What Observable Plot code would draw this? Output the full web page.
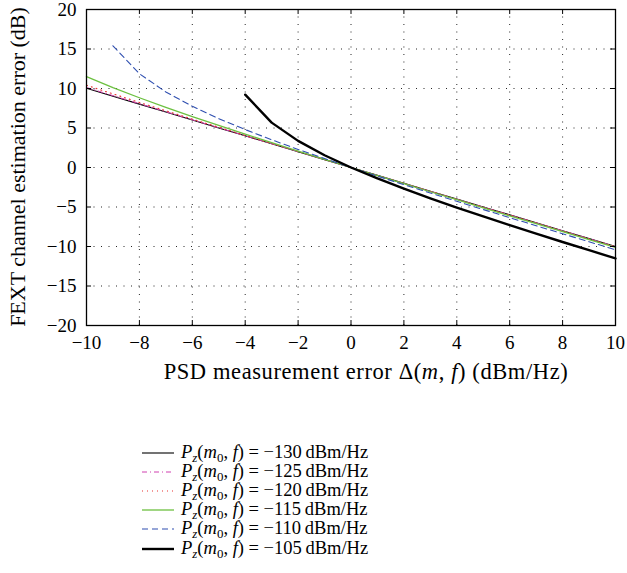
<!DOCTYPE html>
<html>
<head>
<meta charset="utf-8">
<script src="https://cdn.jsdelivr.net/npm/d3@7"></script>
<script src="https://cdn.jsdelivr.net/npm/@observablehq/plot@0.6"></script>
<style>
  html, body { margin: 0; padding: 0; background: #fff; }
  #wrap { position: relative; width: 627px; height: 573px; overflow: hidden; font-family: 'Liberation Serif', 'DejaVu Serif', serif; color: #000; }
  #chart { position: absolute; left: 0; top: 0; }
  .lab { position: absolute; white-space: nowrap; line-height: 1; }
  #legend { position: absolute; left: 0; top: 0; }
  .row { position: absolute; white-space: nowrap; font-size: 18.5px; line-height: 1; }
  .row svg { position: absolute; left: 0; top: 0; }
  .row span { position: absolute; top: 0; }
  sub { font-size: 70%; vertical-align: -0.3em; line-height: 0; }
</style>
</head>
<body>
<div id="wrap">
  <div id="chart"></div>
  <div class="lab" id="xlab" style="left:0;width:732px;text-align:center;top:361px;font-size:22.5px;letter-spacing:0.6px;">PSD measurement error &Delta;(<i>m</i>, <i>f</i>) (dBm/Hz)</div>
  <div class="lab" id="ylab" style="left:18px;top:167px;font-size:22px;transform:translate(-50%,-50%) rotate(-90deg);">FEXT channel estimation error (dB)</div>
  <div id="legend"></div>
</div>
<script>
// ---- data ----
const xTicks = [-10, -8, -6, -4, -2, 0, 2, 4, 6, 8, 10];
const yTicks = [-20, -15, -10, -5, 0, 5, 10, 15, 20];

const deltaFull = [-10, -9, -8, -7, -6, -5, -4, -3, -2, -1, 0, 1, 2, 3, 4, 5, 6, 7, 8, 9, 10];
const err130 = [10.04, 9.03, 8.02, 7.02, 6.01, 5.01, 4.01, 3.00, 2.00, 1.00, 0, -1.00, -2.00, -3.00, -4.00, -5.00, -6.00, -7.00, -8.00, -9.00, -10.00];
const err125 = [10.13, 9.10, 8.07, 7.06, 6.04, 5.03, 4.02, 3.01, 2.01, 1.00, 0, -1.00, -2.01, -3.01, -4.01, -5.01, -6.01, -7.01, -8.01, -9.01, -10.01];
const err120 = [10.41, 9.32, 8.24, 7.18, 6.13, 5.10, 4.07, 3.04, 2.03, 1.01, 0, -1.01, -2.02, -3.02, -4.03, -5.03, -6.03, -7.03, -8.04, -9.04, -10.04];
const err115 = [11.51, 10.12, 8.83, 7.61, 6.44, 5.32, 4.22, 3.14, 2.08, 1.04, 0, -1.03, -2.05, -3.07, -4.08, -5.10, -6.11, -7.11, -8.12, -9.12, -10.10];
const delta110 = [-9, -8, -7, -6, -5, -4, -3, -2, -1, 0, 1, 2, 3, 4, 5, 6, 7, 8, 9, 10];
const err110 = [15.41, 11.87, 9.56, 7.75, 6.19, 4.80, 3.51, 2.29, 1.13, 0, -1.10, -2.17, -3.23, -4.28, -5.32, -6.35, -7.37, -8.39, -9.40, -10.41];
const delta105 = [-4, -3, -2, -1, 0, 1, 2, 3, 4, 5, 6, 7, 8, 9, 10];
const err105 = [9.22, 5.68, 3.37, 1.55, 0, -1.39, -2.68, -3.90, -5.07, -6.19, -7.29, -8.37, -9.43, -10.47, -11.51];

const seriesLevels = ["−130", "−125", "−120", "−115", "−110", "−105"];

// ---- styles ----
const styles = [
  {stroke: "#000000", strokeWidth: 1.1, dash: null},
  {stroke: "#d040b0", strokeWidth: 1, dash: "5,3,1,3"},
  {stroke: "#e83030", strokeWidth: 1.1, dash: "1,4"},
  {stroke: "#6cc040", strokeWidth: 1.3, dash: null},
  {stroke: "#2f4fb0", strokeWidth: 1.1, dash: "6,4"},
  {stroke: "#000000", strokeWidth: 2.4, dash: null}
];

const seriesData = [
  [deltaFull, err130],
  [deltaFull, err125],
  [deltaFull, err120],
  [deltaFull, err115],
  [delta110, err110],
  [delta105, err105]
];
const tables = seriesData.map(([xs, ys]) => xs.map((x, i) => ({x, y: ys[i]})));

const innerX = xTicks.slice(1, -1);
const innerY = yTicks.slice(1, -1);
const dotted = {stroke: "#000", strokeWidth: 1, strokeDasharray: "1,6.5", strokeOpacity: 0.85};

const lineMarks = tables.map((t, i) => Plot.line(t, {
  x: "x", y: "y",
  stroke: styles[i].stroke,
  strokeWidth: styles[i].strokeWidth,
  strokeDasharray: styles[i].dash || undefined,
  strokeLinejoin: "round"
}));

const FONT = "'Liberation Serif', 'DejaVu Serif', serif";

const chart = Plot.plot({
  width: 627,
  height: 395,
  marginLeft: 86,
  marginRight: 12,
  marginTop: 9,
  marginBottom: 70,
  style: {fontFamily: FONT, fontSize: "19px", color: "#000", background: "transparent", overflow: "visible"},
  x: {domain: [-10, 10]},
  y: {domain: [-20, 20]},
  marks: [
    Plot.ruleX(innerX, {y1: -20, y2: 20, ...dotted}),
    Plot.ruleY(innerY, {x1: -10, x2: 10, ...dotted}),
    ...lineMarks,
    Plot.ruleX(xTicks, {y1: -20, y2: -19.37, stroke: "#000"}),
    Plot.ruleX(xTicks, {y1: 20, y2: 19.37, stroke: "#000"}),
    Plot.ruleY(yTicks, {x1: -10, x2: -9.81, stroke: "#000"}),
    Plot.ruleY(yTicks, {x1: 10, x2: 9.81, stroke: "#000"}),
    Plot.frame({stroke: "#000", strokeWidth: 1.3}),
    Plot.axisX(xTicks, {tickSize: 0, tickPadding: 10, label: null, fontSize: 19, fontFamily: FONT}),
    Plot.axisY(yTicks, {tickSize: 0, tickPadding: 10, label: null, fontSize: 19, fontFamily: FONT})
  ]
});
document.getElementById("chart").appendChild(chart);

// ---- legend ----
const legend = document.getElementById("legend");
const rowTops = [443, 462, 481, 500, 519, 539];
seriesLevels.forEach((lv, i) => {
  const row = document.createElement("div");
  row.className = "row";
  row.style.left = "142px";
  row.style.top = rowTops[i] + "px";
  const s = styles[i];
  row.innerHTML =
    `<svg width="34" height="20"><line x1="0" x2="32" y1="10" y2="10" stroke="${s.stroke}" stroke-width="${s.strokeWidth}" ${s.dash ? `stroke-dasharray="${s.dash}"` : ""}/></svg>` +
    `<span style="left:39px"><i>P</i><sub><i>z</i></sub>(<i>m</i><sub>0</sub>, <i>f</i>) = ${lv}&#8201;dBm/Hz</span>`;
  legend.appendChild(row);
});
</script>
</body>
</html>
